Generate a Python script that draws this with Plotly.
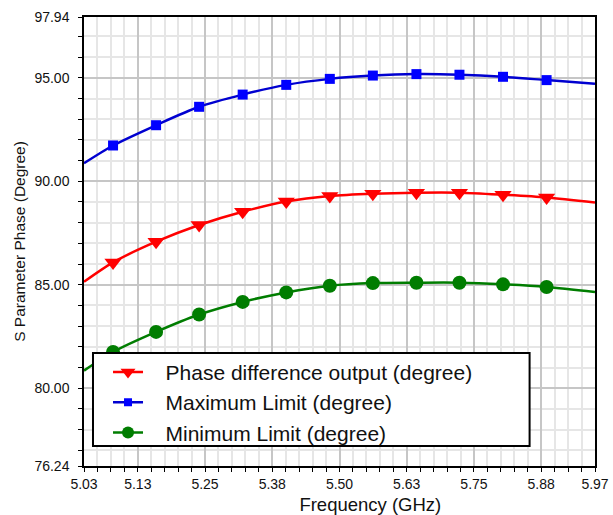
import plotly.graph_objects as go

# ---------------- data ----------------
freq = [5.025, 5.079, 5.159, 5.239, 5.320, 5.401, 5.482, 5.562, 5.643, 5.723, 5.804, 5.885, 5.975]
phase_diff = [85.14, 86.08, 87.08, 87.89, 88.53, 89.02, 89.29, 89.40, 89.45, 89.45, 89.35, 89.22, 88.98]
max_limit = [90.87, 91.73, 92.71, 93.60, 94.19, 94.66, 94.95, 95.11, 95.18, 95.15, 95.05, 94.89, 94.71]
min_limit = [80.85, 81.75, 82.72, 83.56, 84.17, 84.63, 84.95, 85.08, 85.10, 85.10, 85.02, 84.89, 84.65]

series_names = ["Phase difference output (degree)", "Maximum Limit (degree)", "Minimum Limit (degree)"]

x_tickvals = [5.025, 5.125, 5.25, 5.375, 5.5, 5.625, 5.75, 5.875, 5.975]
x_ticktext = ["5.03", "5.13", "5.25", "5.38", "5.50", "5.63", "5.75", "5.88", "5.97"]
y_tickvals = [76.24, 80, 85, 90, 95, 97.94]
y_ticktext = ["76.24", "80.00", "85.00", "90.00", "95.00", "97.94"]
x_range = [5.025, 5.975]
y_range = [76.24, 97.94]

# ---------------- styles ----------------
styles = [
    dict(color="#ff0000", symbol="triangle-down", size=15),
    dict(color="#0000d0", symbol="square", size=10),
    dict(color="#007d00", symbol="circle", size=14),
]
marker_colors = ["#ff0000", "#0000ff", "#007d00"]
FONT = "Liberation Sans, Arial, sans-serif"

fig = go.Figure()

for name, vals, st, mc in zip(series_names, [phase_diff, max_limit, min_limit], styles, marker_colors):
    fig.add_trace(go.Scatter(x=freq, y=vals, mode="lines", line=dict(color=st["color"], width=2.5, shape="spline", smoothing=0.8),
                             showlegend=False, hoverinfo="skip"))
    fig.add_trace(go.Scatter(x=freq[1:-1], y=vals[1:-1], mode="markers",
                             marker=dict(color=mc, symbol=st["symbol"], size=st["size"], line=dict(width=0)),
                             showlegend=False))

# legend entries
for name, st, mc in zip(series_names, styles, marker_colors):
    fig.add_trace(go.Scatter(x=[None], y=[None], mode="lines+markers", name="\u00a0\u00a0\u00a0" + name,
                             line=dict(color=st["color"], width=2.5),
                             marker=dict(color=mc, symbol=st["symbol"], size=st["size"] - 2, line=dict(width=0))))

# legend box
fig.add_shape(type="rect", xref="paper", yref="paper", x0=0.0176, x1=0.872, y0=0.0445, y1=0.2517,
              fillcolor="white", line=dict(color="black", width=2), layer="above")

axis_common = dict(showline=True, linecolor="black", linewidth=1.5, mirror=True, automargin=False,
                   ticks="outside", ticklen=4, tickcolor="black", tickwidth=1,
                   tickfont=dict(family=FONT, size=14, color="#111"),
                   showgrid=True, gridcolor="#c6c6c6", gridwidth=1.5, zeroline=False)

fig.update_xaxes(range=x_range, tickmode="array", tickvals=x_tickvals, ticktext=x_ticktext,
                 title=dict(text="\u200b" + "\u00a0" * 12 + "Frequency (GHz)", font=dict(family=FONT, size=18.5, color="#111"), standoff=8),
                 minor=dict(tick0=5.025, dtick=0.025, showgrid=True, gridcolor="#e6e6e6", gridwidth=1.5,
                            ticks="outside", ticklen=4, tickcolor="black"),
                 **axis_common)
fig.update_yaxes(range=y_range, tickmode="array", tickvals=y_tickvals, ticktext=y_ticktext,
                 title=dict(text="S Parameter Phase (Degree)", font=dict(family=FONT, size=15.5, color="#111"), standoff=5),
                 minor=dict(tick0=0, dtick=1, showgrid=True, gridcolor="#e6e6e6", gridwidth=1.5,
                            ticks="outside", ticklen=4, tickcolor="black"),
                 ticklabelstandoff=6,
                 **axis_common)

fig.update_layout(
    width=613, height=515, autosize=False,
    margin=dict(l=84, r=18, t=17, b=49),
    plot_bgcolor="white", paper_bgcolor="white",
    font=dict(family=FONT, color="#111"),
    legend=dict(x=0.047, y=0.2545, xanchor="left", yanchor="top", bgcolor="rgba(0,0,0,0)", borderwidth=0,
                font=dict(family=FONT, size=21, color="#111"), itemwidth=30),
    showlegend=True,
)

fig.write_html("out.html", config={"displayModeBar": False},
               post_script="document.body.style.margin='0px';document.body.style.overflow='hidden';")
